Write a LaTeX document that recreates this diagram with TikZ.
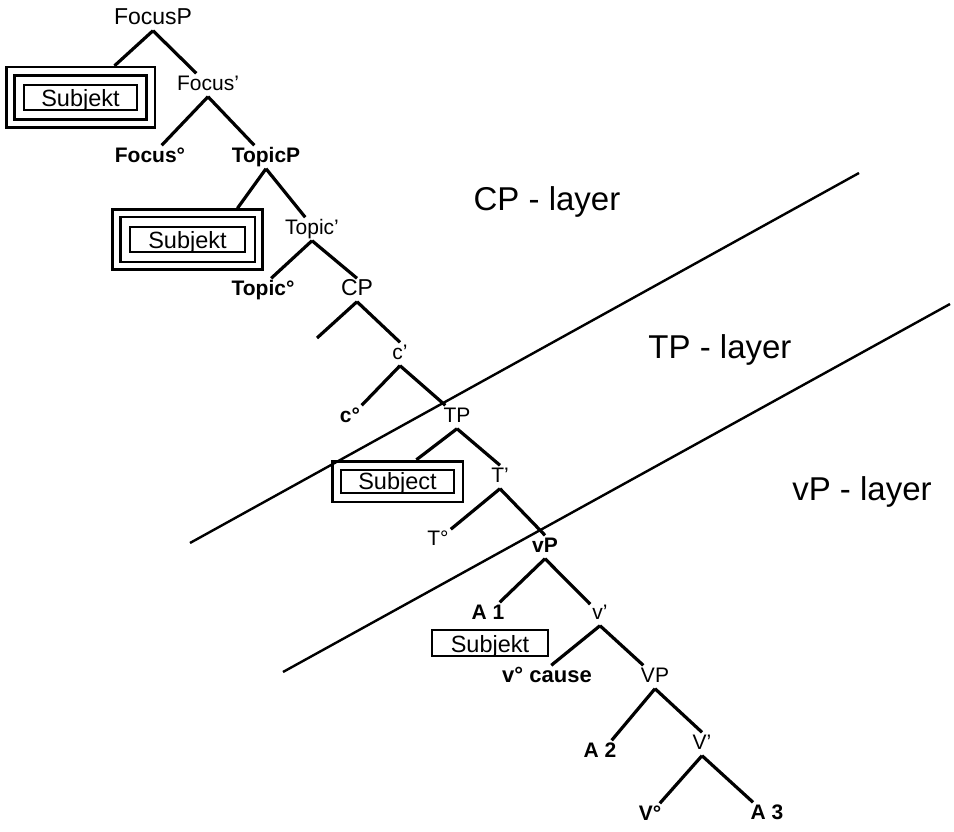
\documentclass[tikz,border=0pt]{standalone}
\usepackage{fontspec}
\setmainfont{Liberation Sans}
\usetikzlibrary{fit}
\begin{document}
\begin{tikzpicture}[x=1pt,y=-1pt,
  lbl/.style={font=\fontsize{21}{25}\selectfont, text height=15pt, text depth=4pt, inner sep=2pt},
  biglbl/.style={lbl, font=\fontsize{23}{27}\selectfont},
  blbl/.style={lbl, font=\fontsize{21}{25}\selectfont\bfseries},
  edge/.style={line width=3.2pt},
  layerline/.style={line width=2.4pt},
  boxin/.style={draw, line width=2.7pt, font=\fontsize{23.5}{27}\selectfont, text height=21pt, text depth=3pt, inner sep=0pt, minimum height=25pt, minimum width=113pt},
  boxout/.style={draw, line width=2.7pt, inner sep=#1},
  layerlbl/.style={font=\fontsize{33}{38}\selectfont, inner sep=0pt}]
\useasboundingbox (0,0) rectangle (954,832);

% layer lines
\coordinate (l1a) at (190,543);
\coordinate (l1b) at (859,173);
\coordinate (l2a) at (283,672);
\coordinate (l2b) at (950,304);
\draw[layerline] (l1a) -- (l1b);
\draw[layerline] (l2a) -- (l2b);

\node[layerlbl] (cpl) at (547,202) {CP - layer};
\node[layerlbl] (tpl) at (720,350) {TP - layer};
\node[layerlbl] (vpl) at (862,492) {vP - layer};

% tree labels
\node[biglbl] (FocusP)  at (153,19) {FocusP};
\node[lbl]  (Focusb)  at (208,85) {Focus'};
\node[blbl] (Focus0)  at (150,157) {Focus°};
\node[blbl] (TopicP)  at (266,157) {TopicP};
\node[lbl]  (Topicb)  at (312,229) {Topic'};
\node[blbl] (Topic0)  at (263,290) {Topic°};
\node[biglbl] (CP)    at (357,290) {CP};
\coordinate (CPspec) at (317,338);
\node[lbl]  (cb)      at (400,354) {c'};
\node[blbl] (c0)      at (350,417) {c°};
\node[lbl]  (TP)      at (457,417) {TP};
\node[lbl]  (Tb)      at (500,477) {T'};
\node[lbl]  (T0)      at (438,540) {T°};
\node[blbl] (vP)      at (545,547) {vP};
\node[blbl] (A1)      at (488,614) {A 1};
\node[lbl]  (vb)      at (600,614) {v'};
\node[blbl, font=\fontsize{22}{26}\selectfont\bfseries] (v0) at (547,677) {v° cause};
\node[lbl]  (VP)      at (655,677) {VP};
\node[blbl] (A2)      at (600,752) {A 2};
\node[lbl]  (Vb)      at (702,744) {V'};
\node[blbl] (V0)      at (650,815) {V°};
\node[blbl] (A3)      at (767,814) {A 3};

% Subjekt boxes
\node[boxin] (s1) at (80.5,97.5) {Subjekt};
\node[boxout=8pt, fit=(s1)] (s1m) {};
\node[boxout=16.5pt, fit=(s1)] (s1o) {};
\node[boxin, minimum width=115pt] (s2) at (187.5,239.5) {Subjekt};
\node[boxout=8.5pt, fit=(s2)] (s2m) {};
\node[boxout=16pt, fit=(s2)] (s2o) {};
\node[boxin, minimum height=23pt, text height=19pt, text depth=4pt] (s3) at (397.5,481.5) {Subject};
\node[boxout=7.5pt, fit=(s3)] (s3o) {};
\node[boxin, minimum width=116pt, minimum height=26pt] (s4) at (490,643) {Subjekt};

% edges
\draw[edge] (FocusP.south) -- (s1o.43);
\draw[edge] (FocusP.south) -- (Focusb.135);
\draw[edge] (Focusb.south) -- (Focus0.45);
\draw[edge] (Focusb.south) -- (TopicP.135);
\draw[edge] (TopicP.south) -- (s2o.32);
\draw[edge] (TopicP.south) -- (Topicb.120);
\draw[edge] (Topicb.south) -- (Topic0.55);
\draw[edge] (Topicb.south) -- (CP.north);
\draw[edge] (CP.south) -- (CPspec);
\draw[edge] (CP.south) -- (cb.north);
\draw[edge] (cb.south) -- (c0.45);
\draw[edge] (cb.south) -- (TP.135);
\draw[edge] (TP.south) -- (s3o.49);
\draw[edge] (TP.south) -- (Tb.north);
\draw[edge] (Tb.south) -- (T0.40);
\draw[edge] (Tb.south) -- (vP.north);
\draw[edge] (vP.south) -- (A1.45);
\draw[edge] (vP.south) -- (vb.135);
\draw[edge] (vb.south) -- (v0.70);
\draw[edge] (vb.south) -- (VP.135);
\draw[edge] (VP.south) -- (A2.45);
\draw[edge] (VP.south) -- (Vb.north);
\draw[edge] (Vb.south) -- (V0.50);
\draw[edge] (Vb.south) -- (A3.140);
\end{tikzpicture}
\end{document}
